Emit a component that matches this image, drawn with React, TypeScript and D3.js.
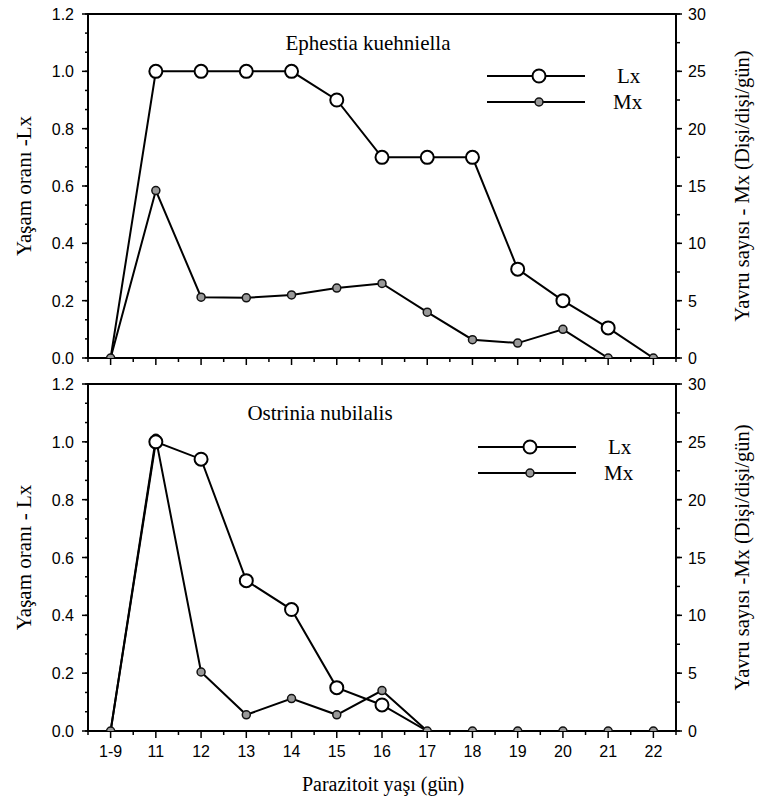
import React from 'react';
import * as d3 from 'd3';

// age classes (gün)
const categories = ['1-9', '11', '12', '13', '14', '15', '16', '17', '18', '19', '20', '21', '22'];

// Ephestia kuehniella
const ephestiaLx = [0, 1.0, 1.0, 1.0, 1.0, 0.9, 0.7, 0.7, 0.7, 0.31, 0.2, 0.105, 0];
const ephestiaMx = [0, 14.6, 5.3, 5.25, 5.5, 6.1, 6.5, 4.0, 1.6, 1.3, 2.5, 0, 0];

// Ostrinia nubilalis
const ostriniaLx = [0, 1.0, 0.94, 0.52, 0.42, 0.15, 0.09, 0, 0, 0, 0, 0, 0];
const ostriniaMx = [0, 25.3, 5.1, 1.4, 2.8, 1.4, 3.5, 0, 0, 0, 0, 0, 0];

const leftTicks = [0, 0.2, 0.4, 0.6, 0.8, 1.0, 1.2];
const rightTicks = [0, 5, 10, 15, 20, 25, 30];

const W = 759;
const H = 803;
const SANS = '"Liberation Sans", Arial, sans-serif';
const SERIF = '"Liberation Serif", "Times New Roman", serif';

const x = d3.scaleLinear().domain([-0.5, categories.length - 0.5]).range([88, 676]);

type PanelProps = {
  id: string;
  top: number;
  bottom: number;
  lx: number[];
  mx: number[];
  title: string;
  titleX: number;
  leftLabel: string;
  rightLabel: string;
  legendY: number;
  legendX: number;
  showXLabels: boolean;
};

const Panel = ({ id, top, bottom, lx, mx, title, titleX, leftLabel, rightLabel, legendY, legendX, showXLabels }: PanelProps) => {
  const yL = d3.scaleLinear().domain([0, 1.2]).range([bottom, top]);
  const yR = d3.scaleLinear().domain([0, 30]).range([bottom, top]);
  const [x0, x1] = x.range();

  const lxLine = d3.line<number>().x((d, i) => x(i)).y(d => yL(d));
  const mxLine = d3.line<number>().x((d, i) => x(i)).y(d => yR(d));

  const minorLeft = d3.range(0, 1.2001, 0.2 / 3);
  const minorRight = d3.range(0, 30.001, 2.5);
  const minorX = d3.range(-0.5, categories.length, 1);
  const midY = (top + bottom) / 2;

  return (
    <g>
      <defs>
        <clipPath id={id}>
          <rect x={x0} y={top} width={x1 - x0} height={bottom - top} />
        </clipPath>
      </defs>

      {/* frame */}
      <rect x={x0} y={top} width={x1 - x0} height={bottom - top} fill="none" stroke="#000" strokeWidth={2} />

      {/* left axis */}
      {minorLeft.map((v, i) => (
        <line key={'ml' + i} x1={x0 - 3} x2={x0} y1={yL(v)} y2={yL(v)} stroke="#000" strokeWidth={1.5} />
      ))}
      {leftTicks.map(v => (
        <g key={'l' + v}>
          <line x1={x0 - 6} x2={x0} y1={yL(v)} y2={yL(v)} stroke="#000" strokeWidth={1.5} />
          <text x={x0 - 14} y={yL(v) + 6} textAnchor="end" fontFamily={SANS} fontSize={16}>{d3.format('.1f')(v)}</text>
        </g>
      ))}

      {/* right axis */}
      {minorRight.map((v, i) => (
        <line key={'mr' + i} x1={x1} x2={x1 + 4} y1={yR(v)} y2={yR(v)} stroke="#000" strokeWidth={1.5} />
      ))}
      {rightTicks.map(v => (
        <g key={'r' + v}>
          <line x1={x1} x2={x1 + 6} y1={yR(v)} y2={yR(v)} stroke="#000" strokeWidth={1.5} />
          <text x={x1 + 12} y={yR(v) + 6} textAnchor="start" fontFamily={SANS} fontSize={16}>{v}</text>
        </g>
      ))}

      {/* bottom axis */}
      {minorX.map((v, i) => (
        <line key={'mx' + i} x1={x(v)} x2={x(v)} y1={bottom} y2={bottom + 4} stroke="#000" strokeWidth={1.5} />
      ))}
      {categories.map((c, i) => (
        <g key={'c' + c}>
          <line x1={x(i)} x2={x(i)} y1={bottom} y2={bottom + 7} stroke="#000" strokeWidth={1.5} />
          {showXLabels && (
            <text x={x(i)} y={bottom + 26} textAnchor="middle" fontFamily={SANS} fontSize={16}>{c}</text>
          )}
        </g>
      ))}

      {/* series */}
      <g clipPath={`url(#${id})`}>
        <path d={lxLine(lx) || ''} fill="none" stroke="#000" strokeWidth={2} />
        <path d={mxLine(mx) || ''} fill="none" stroke="#000" strokeWidth={2} />
        {mx.map((v, i) => (
          <circle key={'pm' + i} cx={x(i)} cy={yR(v)} r={4} fill="#999" stroke="#111" strokeWidth={1.5} />
        ))}
        {lx.map((v, i) => v > 0 && (
          <circle key={'pl' + i} cx={x(i)} cy={yL(v)} r={6.5} fill="#fff" stroke="#000" strokeWidth={2} />
        ))}
      </g>

      {/* title */}
      <text x={titleX} y={top + 36} textAnchor="middle" fontFamily={SERIF} fontSize={21}>{title}</text>

      {/* legend */}
      <line x1={legendX} x2={legendX + 98} y1={legendY} y2={legendY} stroke="#000" strokeWidth={2} />
      <circle cx={legendX + 52} cy={legendY} r={6.5} fill="#fff" stroke="#000" strokeWidth={2} />
      <text x={legendX + 130} y={legendY + 7} fontFamily={SERIF} fontSize={21}>Lx</text>
      <line x1={legendX} x2={legendX + 98} y1={legendY + 26} y2={legendY + 26} stroke="#000" strokeWidth={2} />
      <circle cx={legendX + 52} cy={legendY + 26} r={4} fill="#999" stroke="#111" strokeWidth={1.5} />
      <text x={legendX + 126} y={legendY + 33} fontFamily={SERIF} fontSize={21}>Mx</text>

      {/* axis titles */}
      <text transform={`translate(31,${midY}) rotate(-90)`} textAnchor="middle" fontFamily={SERIF} fontSize={21}>{leftLabel}</text>
      <text transform={`translate(749,${midY}) rotate(-90)`} textAnchor="middle" fontFamily={SERIF} fontSize={20.5}>{rightLabel}</text>
    </g>
  );
};

export default function App() {
  return (
    <svg width={W} height={H} style={{ position: 'absolute', left: 0, top: 0, background: '#fff' }}>
      <rect width={W} height={H} fill="#fff" />
      <Panel
        id="clip-top"
        top={14}
        bottom={358}
        lx={ephestiaLx}
        mx={ephestiaMx}
        title="Ephestia kuehniella"
        titleX={368}
        leftLabel="Yaşam oranı -Lx"
        rightLabel="Yavru sayısı - Mx (Dişi/dişi/gün)"
        legendX={487}
        legendY={76}
        showXLabels={false}
      />
      <Panel
        id="clip-bottom"
        top={384}
        bottom={731}
        lx={ostriniaLx}
        mx={ostriniaMx}
        title="Ostrinia nubilalis"
        titleX={320}
        leftLabel="Yaşam oranı - Lx"
        rightLabel="Yavru sayısı -Mx (Dişi/dişi/gün)"
        legendX={478}
        legendY={447}
        showXLabels={true}
      />
      <text x={383} y={791} textAnchor="middle" fontFamily={SERIF} fontSize={20}>Parazitoit yaşı (gün)</text>
    </svg>
  );
}
